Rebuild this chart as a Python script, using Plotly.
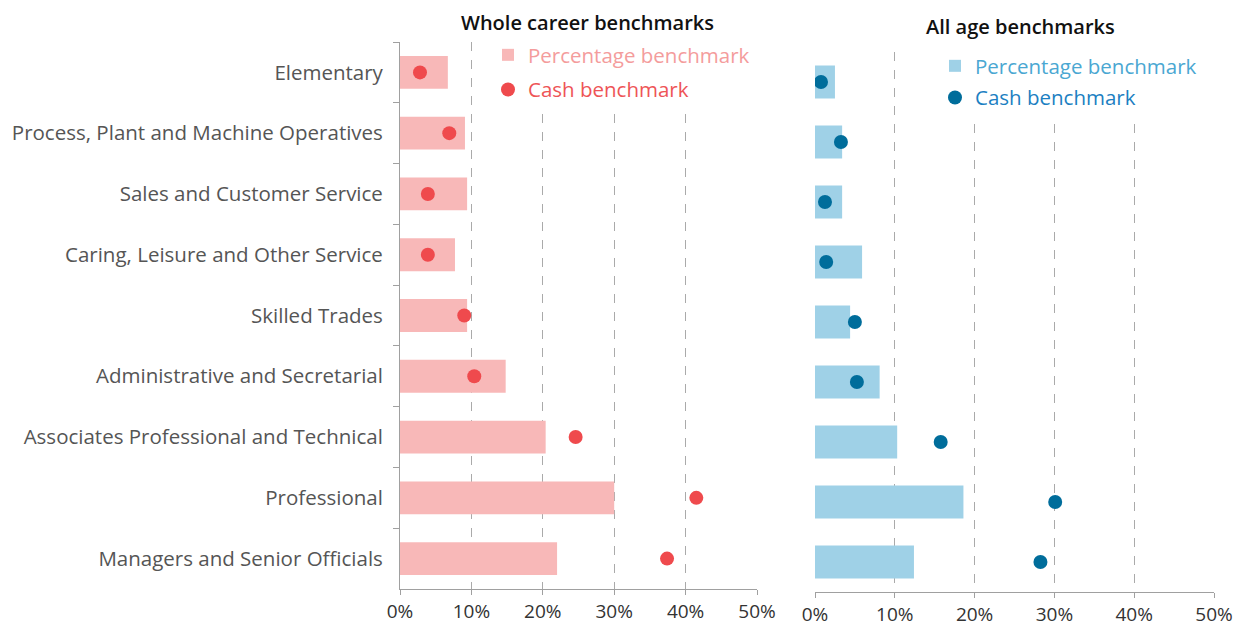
import plotly.graph_objects as go

categories = [
    "Elementary",
    "Process, Plant and Machine Operatives",
    "Sales and Customer Service",
    "Caring, Leisure and Other Service",
    "Skilled Trades",
    "Administrative and Secretarial",
    "Associates Professional and Technical",
    "Professional",
    "Managers and Senior Officials",
]

career_pct = [0.067, 0.091, 0.094, 0.077, 0.094, 0.148, 0.204, 0.300, 0.220]
career_cash = [0.028, 0.069, 0.039, 0.039, 0.090, 0.104, 0.246, 0.415, 0.374]

allage_pct = [0.025, 0.034, 0.034, 0.059, 0.044, 0.081, 0.103, 0.186, 0.124]
allage_cash = [0.0075, 0.0325, 0.0125, 0.014, 0.050, 0.0525, 0.1575, 0.301, 0.2825]

x_ticks = [0, 0.1, 0.2, 0.3, 0.4, 0.5]
x_ticklabels = ["0%", "10%", "20%", "30%", "40%", "50%"]

FONT = "Open Sans"
O = 8  # page body offset
W, H = 1247 - O, 627 - O
N = len(categories)


def xf(p):
    return (p - O) / W


def yf(p):
    return 1 - (p - O) / H


fig = go.Figure()

fig.add_trace(go.Bar(
    x=career_pct, y=categories, orientation="h", xaxis="x", yaxis="y",
    marker=dict(color="#f8b8b8", line=dict(width=0)), width=0.54,
    name="<span style='color:#f49c9c'>Percentage benchmark</span>",
    legend="legend", legendgroup="a",
))
fig.add_trace(go.Scatter(
    x=career_cash, y=categories, mode="markers", xaxis="x", yaxis="y",
    marker=dict(color="#ef4a4d", size=14),
    name="<span style='color:#ee5456'>Cash benchmark</span>",
    legend="legend", legendgroup="b",
))
fig.add_trace(go.Bar(
    x=allage_pct, y=categories, orientation="h", xaxis="x2", yaxis="y2",
    marker=dict(color="#9fd1e7", line=dict(width=0)), width=0.55,
    name="<span style='color:#4aa7d2'>Percentage benchmark</span>",
    legend="legend2", legendgroup="c",
))
fig.add_trace(go.Scatter(
    x=allage_cash, y=categories, mode="markers", xaxis="x2", yaxis="y2",
    marker=dict(color="#006d9b", size=14),
    name="<span style='color:#1c7fc2'>Cash benchmark</span>",
    legend="legend2", legendgroup="d",
))

xcommon = dict(
    range=[0, 0.5], tickvals=x_ticks, ticktext=x_ticklabels,
    showgrid=True, gridcolor="#aaaaaa", griddash="dash", gridwidth=1,
    zeroline=False, showline=True, linecolor="#a0a0a0", linewidth=1,
    ticks="outside", ticklen=5, tickcolor="#a0a0a0", automargin=False,
    tickfont=dict(family=FONT, size=19, color="#333333"),
    fixedrange=True,
)

fig.update_layout(
    width=W, height=H,
    margin=dict(l=0, r=0, t=0, b=0, autoexpand=False),
    paper_bgcolor="white", plot_bgcolor="white",
    showlegend=True,
    font=dict(family=FONT, color="#555555"),
    xaxis=dict(domain=[xf(400), xf(757)], anchor="y", **xcommon),
    yaxis=dict(
        domain=[yf(589), yf(42)], anchor="x", automargin=False,
        type="category", categoryorder="array", categoryarray=categories,
        range=[N - 0.5, -0.5], tickson="boundaries", ticks="outside", ticklen=6,
        tickcolor="#a0a0a0", showline=True, linecolor="#a0a0a0", linewidth=1,
        showgrid=False, ticklabelstandoff=12,
        tickfont=dict(family=FONT, size=20.5, color="#555555"),
    ),
    xaxis2=dict(domain=[xf(815), xf(1214)], anchor="y2", **xcommon),
    yaxis2=dict(
        domain=[yf(592), yf(52)], anchor="x2", automargin=False,
        type="category", categoryorder="array", categoryarray=categories,
        range=[N - 0.5, -0.5], showticklabels=False, ticks="",
        showline=False, showgrid=False,
    ),
    legend=dict(
        x=xf(488), y=yf(35), xanchor="left", yanchor="top",
        bgcolor="white", font=dict(family=FONT, size=20.5),
        itemwidth=30, tracegroupgap=5, traceorder="grouped",
    ),
    legend2=dict(
        x=xf(935), y=yf(46), xanchor="left", yanchor="top",
        bgcolor="white", font=dict(family=FONT, size=20.5),
        itemwidth=30, tracegroupgap=2, traceorder="grouped",
    ),
    annotations=[
        dict(text="Whole career benchmarks", x=xf(587), y=yf(8),
             xref="paper", yref="paper", showarrow=False,
             xanchor="center", yanchor="top", borderpad=0,
             font=dict(family=FONT, size=20, color="#111111", weight=600)),
        dict(text="All age benchmarks", x=xf(1020), y=yf(27),
             xref="paper", yref="paper", showarrow=False,
             xanchor="center", yanchor="middle", borderpad=0,
             font=dict(family=FONT, size=20, color="#111111", weight=600)),
    ],
)

fig.write_html("out.html")
